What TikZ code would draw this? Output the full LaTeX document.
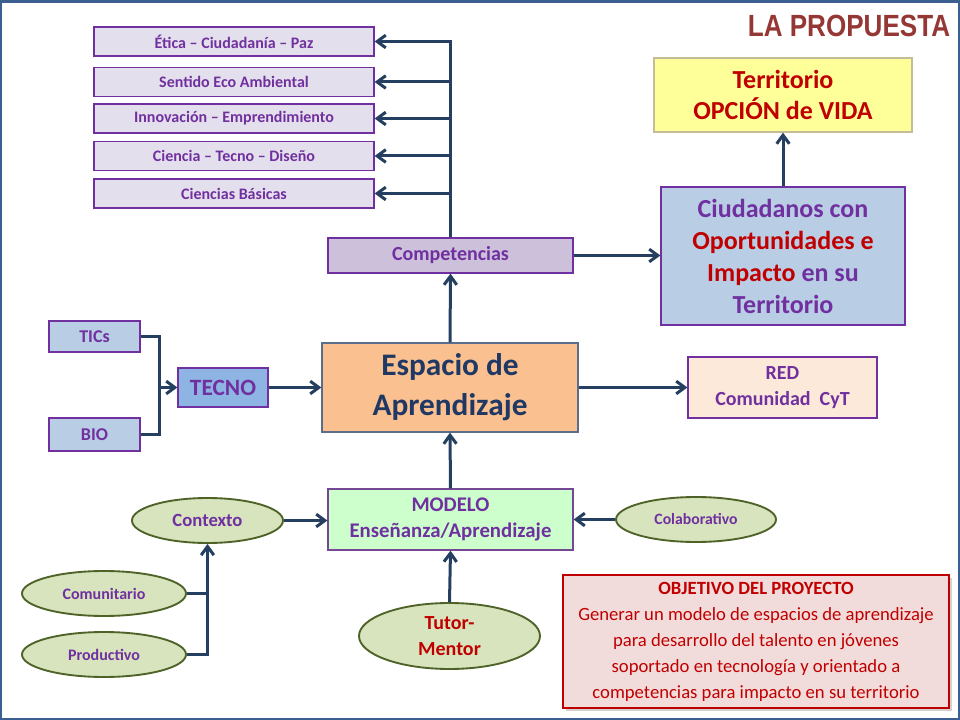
\documentclass[tikz,border=0pt]{standalone}
\usepackage{fontspec}
\setmainfont{Carlito}
\newfontfamily\arialf{Liberation Sans}
\usetikzlibrary{arrows.meta,shapes.geometric,shadows}
\definecolor{lncol}{HTML}{243F60}
\definecolor{pur}{HTML}{7030A0}
\definecolor{dred}{HTML}{C00000}
\definecolor{ttl}{HTML}{953735}
\definecolor{navy}{HTML}{1F3864}
\definecolor{framec}{HTML}{3B5F91}
\definecolor{lav}{HTML}{E4DFEC}
\definecolor{lavb}{HTML}{CCC0DA}
\definecolor{lblue}{HTML}{B9CDE5}
\definecolor{mblue}{HTML}{8EB4E3}
\definecolor{peach}{HTML}{FAC090}
\definecolor{lpeach}{HTML}{FDE9D9}
\definecolor{lgreen}{HTML}{CCFFCC}
\definecolor{olivef}{HTML}{D7E4BD}
\definecolor{olived}{HTML}{4F6228}
\definecolor{pinkf}{HTML}{F2DCDB}
\definecolor{yel}{HTML}{FFFF99}
\definecolor{tanb}{HTML}{C4BD97}
\definecolor{grayb}{HTML}{5A6E8C}
\newcommand\myfs[2]{\fontsize{#1}{#2}\selectfont}
\tikzset{
 sz/.style 2 args={minimum width=#1*0.75pt, minimum height=#2*0.75pt, inner sep=0pt},
 boxp/.style={rectangle, draw=pur, line width=0.9pt, text=pur, align=center},
 ell/.style={ellipse, draw=olived, line width=1.4pt, fill=olivef, text=pur, align=center},
 conn/.style={draw=lncol, line width=2.25pt},
 arr/.style={conn, -{Straight Barb[length=6.5pt,width=9.5pt]}},
}
\begin{document}
\begin{tikzpicture}[x=0.75pt,y=-0.75pt]
\useasboundingbox (0,0) rectangle (960,720);
\fill[framec] (0,0) rectangle (960,720);
\fill[white] (2,3) rectangle (958,718);

% title
\node[text=ttl, font=\arialf\bfseries\myfs{23}{26}] (title) at (849,26) {\scalebox{0.85}[1]{LA PROPUESTA}};

% competencias list
\node[boxp, fill=lav, sz={280}{29}, font=\bfseries\myfs{12}{14}] (etica) at (234,41.5) {Ética – Ciudadanía – Paz};
\node[boxp, fill=lav, sz={280}{29}, font=\bfseries\myfs{12}{14}] (sentido) at (234,82) {Sentido Eco Ambiental};
\node[boxp, fill=lav, sz={280}{29}, font=\bfseries\myfs{12}{14}] (innov) at (234,118.5) {Innovación – Emprendimiento};
\node[boxp, fill=lav, sz={280}{29}, font=\bfseries\myfs{12}{14}] (ciencia) at (234,156) {Ciencia – Tecno – Diseño};
\node[boxp, fill=lav, sz={280}{29}, font=\bfseries\myfs{12}{14}] (basicas) at (234,193.5) {Ciencias Básicas};

\node[boxp, fill=lavb, sz={245}{35}, font=\bfseries\myfs{15}{18}] (comp) at (450.5,255.5) {Competencias};

\node[rectangle, draw=grayb, line width=0.9pt, fill=peach, sz={256}{89}, text=navy, align=center, font=\bfseries\myfs{23.5}{30}] (esp) at (450,387.5) {Espacio de\\Aprendizaje};

\node[boxp, fill=lblue, sz={244}{138}, font=\bfseries\myfs{19.5}{24}] (ciud) at (783,256)
 {Ciudadanos con\\{\color{dred}Oportunidades e}\\{\color{dred}Impacto} en su\\Territorio};

\node[rectangle, draw=tanb, line width=0.9pt, fill=yel, sz={258}{74}, text=dred, align=center, font=\bfseries\myfs{19.5}{23}] (terr) at (783,95) {Territorio\\OPCIÓN de VIDA};

\node[boxp, fill=lblue, sz={91}{31}, font=\bfseries\myfs{13.5}{16}] (tics) at (94.5,336.5) {TICs};
\node[boxp, fill=lblue, sz={91}{33}, font=\bfseries\myfs{13.5}{16}] (bio) at (94.5,434.5) {BIO};
\node[boxp, fill=mblue, sz={90}{39}, font=\bfseries\myfs{17.5}{20}] (tecno) at (223,387.5) {TECNO};

\node[boxp, fill=lpeach, sz={189}{61}, font=\bfseries\myfs{15}{19.5}] (red) at (782.5,387.5) {RED\\Comunidad \ CyT};

\node[boxp, draw=pur!70!gray, fill=lgreen, sz={245}{61}, font=\bfseries\myfs{15.6}{19.5}] (modelo) at (450.5,519.5) {MODELO\\Enseñanza/Aprendizaje};

\node[ell, sz={160}{45}, font=\bfseries\myfs{11.8}{14}] (colab) at (696,519.5) {Colaborativo};
\node[ell, sz={151}{45}, font=\bfseries\myfs{14}{16}] (ctx) at (207.5,520.5) {Contexto};
\node[ell, sz={164}{45}, font=\bfseries\myfs{12}{14}] (comu) at (104,593.5) {Comunitario};
\node[ell, sz={164}{45}, font=\bfseries\myfs{12}{14}] (prod) at (104,654.5) {Productivo};
\node[ell, sz={181}{66}, text=dred, font=\bfseries\myfs{15}{20}] (tutor) at (449.5,636) {Tutor-\\Mentor};

\node[rectangle, draw=dred, line width=0.9pt, fill=pinkf, sz={386}{133}, text=dred, align=center,
 drop shadow={shadow xshift=2pt, shadow yshift=-2pt, opacity=0.35},
 font=\myfs{14}{19.5}] (obj) at (756,641.5)
 {{\bfseries OBJETIVO DEL PROYECTO}\\Generar un modelo de espacios de aprendizaje\\para desarrollo del talento en jóvenes\\soportado en tecnología y orientado a\\competencias para impacto en su territorio};

% connectors
\draw[arr] (comp.north) |- (etica.east);
\draw[arr] (comp.north |- sentido.east) -- (sentido.east);
\draw[arr] (comp.north |- innov.east) -- (innov.east);
\draw[arr] (comp.north |- ciencia.east) -- (ciencia.east);
\draw[arr] (comp.north |- basicas.east) -- (basicas.east);
\draw[arr] (esp.north) -- (comp.south);
\draw[arr] (comp.east) -- (comp.east -| ciud.west);
\draw[arr] (ciud.north) -- (terr.south);
\coordinate (j) at (159,387.5);
\draw[conn] (tics.east) -| (j) |- (bio.east);
\draw[arr] (j) -- (tecno.west);
\draw[arr] (tecno.east) -- (esp.west);
\draw[arr] (esp.east) -- (red.west);
\draw[arr] (modelo.north) -- (esp.south);
\draw[arr] (tutor.north) -- (modelo.south);
\draw[arr] (ctx.east) -- (ctx.east -| modelo.west);
\draw[arr] (colab.west) -- (colab.west -| modelo.east);
\draw[arr] (prod.east) -| (ctx.south);
\draw[conn] (comu.east) -- (comu.east -| ctx.south);
\end{tikzpicture}
\end{document}
